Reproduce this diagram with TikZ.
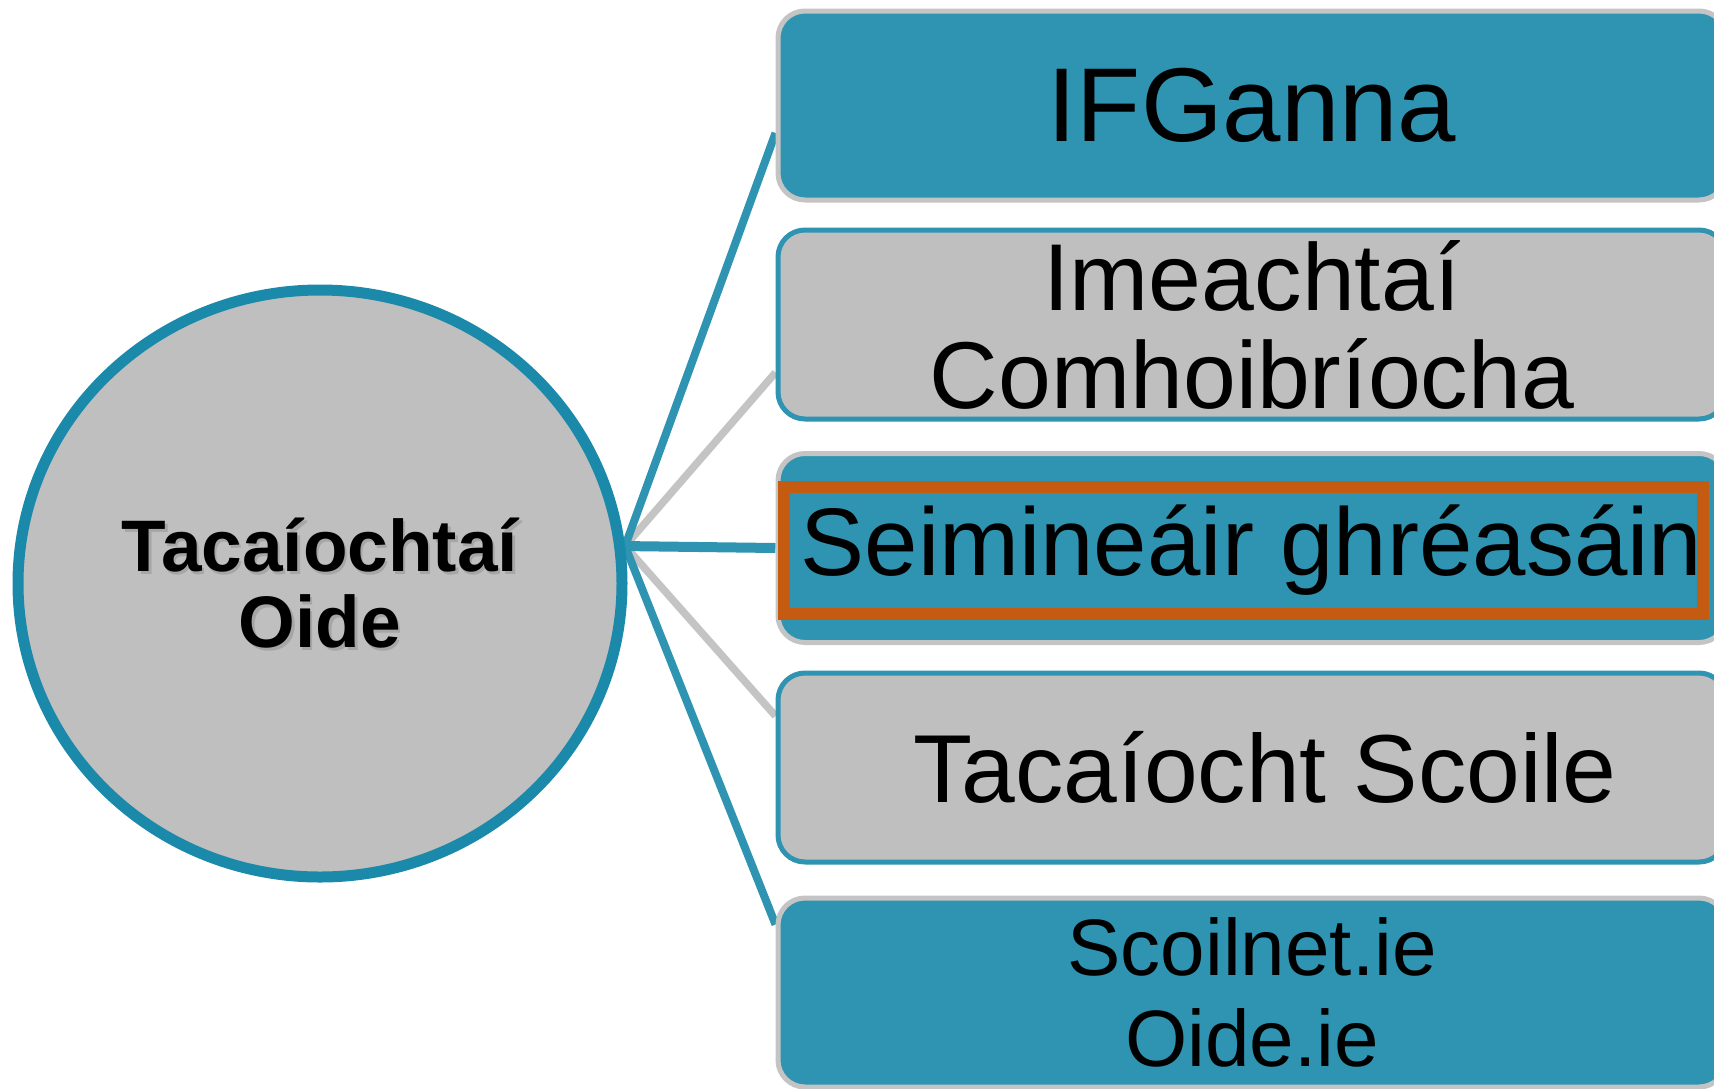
\documentclass[tikz,border=0pt]{standalone}
\usepackage{fontspec}
\setmainfont{Liberation Sans}
\usetikzlibrary{shapes.geometric,backgrounds}
\definecolor{oideteal}{HTML}{2E94B2}
\definecolor{oideedge}{HTML}{1B89AA}
\definecolor{oidegray}{HTML}{BFBFBF}
\definecolor{oidelight}{HTML}{C4C4C4}
\definecolor{oideorange}{HTML}{C55A11}
\begin{document}
\begin{tikzpicture}[x=0.5pt,y=-0.5pt,
  box/.style={rectangle,rounded corners=13.5pt,line width=2.5pt,minimum width=474pt,minimum height=94.5pt,inner sep=0pt,align=center},
  bluebox/.style={box,fill=oideteal,draw=oidelight},
  greybox/.style={box,fill=oidegray,draw=oideteal},
  bluelink/.style={draw=oideteal,line width=4pt},
  greylink/.style={draw=oidelight,line width=3.75pt},
  hubtext/.style={align=center,font=\bfseries\fontsize{36.5}{38}\selectfont}]
 \useasboundingbox (0,0) rectangle (1714,1088);
 \clip (0,0) rectangle (1714,1088);
 \node[ellipse,draw=oideedge,fill=oidegray,line width=5.5pt,minimum width=302pt,minimum height=293.5pt,inner sep=0pt] (oide) at (320,583.5) {};
 \node[hubtext,text=black!35] (shade) at ([shift={(1.1pt,-1.1pt)}]oide.center) {Tacaíochtaí\\Oide};
 \node[hubtext] (hubtxt) at (oide.center) {Tacaíochtaí\\Oide};
 \coordinate (meet) at (oide.7);
 \node[bluebox,font=\fontsize{52.5}{60}\selectfont] (b1) at (1252,105.5) {IFGanna};
 \node[greybox,font=\fontsize{47.5}{49}\selectfont] (b2) at (1252,324.5) {Imeachtaí\\Comhoibríocha};
 \node[bluebox] (b3) at (1252,548) {};
 \node[draw=oideorange,line width=6pt,minimum width=459.5pt,minimum height=63.5pt,inner sep=0pt,font=\fontsize{48}{49}\selectfont] (mark) at (1243.5,550.5) {\hspace*{8pt}Seimineáir ghréasáin};
 \node[greybox,font=\fontsize{48.3}{49}\selectfont] (b4) at (1252,767.5) {\hspace*{13pt}Tacaíocht Scoile};
 \node[bluebox,font=\fontsize{40}{45.5}\selectfont] (b5) at (1252,992.5) {Scoilnet.ie\\Oide.ie};
 \begin{scope}[on background layer]
 \fill[white] (0,0) rectangle (1714,1088);
 \draw[greylink] (meet) -- ([yshift=-24pt]b2.west);
 \draw[greylink] (meet) -- ([yshift=25.75pt]b4.west);
 \draw[bluelink] (meet) -- ([yshift=-13.75pt]b1.west);
 \draw[bluelink,line width=5pt] (meet) -- (b3.west);
 \draw[bluelink] (meet) -- ([yshift=34pt]b5.west);
 \end{scope}
\end{tikzpicture}
\end{document}
